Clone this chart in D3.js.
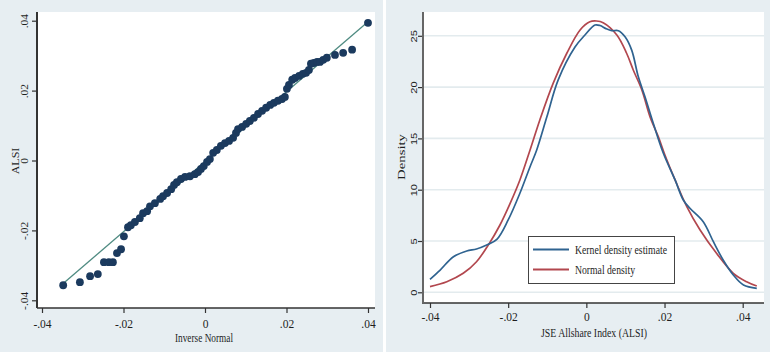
<!DOCTYPE html>
<meta charset="UTF-8">
<html>
<head>
	<title>ALSI normality plots</title>
	<script src="https://d3js.org/d3.v7.min.js"></script>
	<style>
		body { margin: 0; background: #ffffff; }
		svg text { font-family: "Liberation Serif", "Times New Roman", serif; fill: #1e1e1e; }
	</style>
</head>
<body>
	<svg id="chart" width="770" height="352"></svg>

	<script>
		// Left panel: sorted ALSI returns vs inverse normal
		var qqX = [-0.0348, -0.0307, -0.0282, -0.0263, -0.0248, -0.0236, -0.0226, -0.0216, -0.0206, -0.0199,
			-0.0189, -0.0182, -0.0172, -0.0160, -0.0152, -0.0142, -0.0135, -0.0123, -0.0110, -0.0103,
			-0.0093, -0.0083, -0.0076, -0.0069, -0.0059, -0.0049, -0.0037, -0.0025, -0.0017, -0.0010,
			-0.0003, 0.0005, 0.0012, 0.0020, 0.0029, 0.0039, 0.0049, 0.0059, 0.0069, 0.0076,
			0.0081, 0.0091, 0.0101, 0.0110, 0.0120, 0.0130, 0.0140, 0.0150, 0.0160, 0.0169,
			0.0179, 0.0189, 0.0196, 0.0201, 0.0206, 0.0214, 0.0221, 0.0231, 0.0240, 0.0248,
			0.0255, 0.0260, 0.0267, 0.0275, 0.0282, 0.0290, 0.0299, 0.0319, 0.0339, 0.0361, 0.0400];
		var qqY = [-0.0357, -0.0348, -0.0331, -0.0325, -0.0291, -0.0291, -0.0291, -0.0265, -0.0254, -0.0217,
			-0.0191, -0.0185, -0.0176, -0.0165, -0.0151, -0.0145, -0.0131, -0.0122, -0.0110, -0.0102,
			-0.0093, -0.0082, -0.0070, -0.0062, -0.0053, -0.0047, -0.0045, -0.0039, -0.0033, -0.0024,
			-0.0016, -0.0004, 0.0004, 0.0022, 0.0030, 0.0042, 0.0050, 0.0056, 0.0065, 0.0079,
			0.0090, 0.0096, 0.0105, 0.0113, 0.0122, 0.0133, 0.0142, 0.0151, 0.0159, 0.0165,
			0.0171, 0.0176, 0.0182, 0.0205, 0.0216, 0.0231, 0.0236, 0.0242, 0.0248, 0.0251,
			0.0259, 0.0277, 0.0279, 0.0282, 0.0282, 0.0288, 0.0294, 0.0302, 0.0308, 0.0317, 0.0394];
		// 45 degree reference line
		var refX = [-0.0348, 0.0400];
		var refY = [-0.0352, 0.0397];

		// Right panel: kernel density and normal density
		var kdeX = [-0.0400, -0.0374, -0.0340, -0.0306, -0.0281, -0.0255, -0.0229, -0.0200, -0.0170, -0.0144,
			-0.0127, -0.0101, -0.0072, -0.0029, -0.0003, 0.0022, 0.0035, 0.0050, 0.0065, 0.0082,
			0.0099, 0.0116, 0.0133, 0.0150, 0.0171, 0.0197, 0.0227, 0.0248, 0.0265, 0.0299,
			0.0325, 0.0350, 0.0376, 0.0402, 0.0436];
		var kdeY = [1.27, 2.17, 3.47, 4.03, 4.22, 4.61, 5.16, 7.05, 9.65, 12.24,
			13.87, 17.1, 20.7, 23.9, 25.1, 26.05, 26.0, 25.7, 25.5, 25.5,
			24.9, 23.6, 21.0, 19.06, 16.5, 13.55, 10.95, 9.0, 8.19, 6.88,
			4.93, 3.15, 1.69, 0.71, 0.39];
		var normX = [-0.0400, -0.0357, -0.0315, -0.0281, -0.0251, -0.0221, -0.0195, -0.0170, -0.0144, -0.0119,
			-0.0085, -0.0050, -0.0016, 0.0009, 0.0026, 0.0043, 0.0078, 0.0103, 0.0120, 0.0142,
			0.0163, 0.0184, 0.0201, 0.0227, 0.0257, 0.0291, 0.0333, 0.0376, 0.0410, 0.0436];
		var normY = [0.55, 1.03, 1.85, 2.98, 4.6, 6.56, 8.67, 10.95, 13.87, 16.8,
			20.37, 23.3, 25.57, 26.37, 26.44, 26.28, 25.08, 23.3, 21.67, 19.72,
			17.1, 15.17, 13.38, 10.95, 8.35, 6.07, 3.8, 1.85, 1.03, 0.61];

		var retTicks = [-0.04, -0.02, 0, 0.02, 0.04];
		var retTickLabels = ["-.04", "-.02", "0", ".02", ".04"];
		var densTicks = [0, 5, 10, 15, 20, 25];
		var legendLabels = ["Kernel density estimate", "Normal density"];

		var svg = d3.select("#chart");

		// panel backgrounds
		svg.append("rect").attr("x", 0).attr("y", 0).attr("width", 383).attr("height", 352).style("fill", "#e7eef2");
		svg.append("rect").attr("x", 386).attr("y", 0).attr("width", 384).attr("height", 352).style("fill", "#e7eef2");
		svg.append("rect").attr("x", 37).attr("y", 12).attr("width", 338).attr("height", 296).style("fill", "#ffffff");
		svg.append("rect").attr("x", 423).attr("y", 12).attr("width", 341).attr("height", 291).style("fill", "#ffffff");

		function fmt(d) { return retTickLabels[retTicks.indexOf(d)]; }

		function styleAxis(g) {
			g.select(".domain").remove();
			g.selectAll(".tick line").attr("stroke", "#333").attr("stroke-width", 1.2);
			g.selectAll("text").style("font-family", "Liberation Serif, serif").style("font-size", "11.5px").attr("fill", "#1e1e1e");
		}

		// ---------- left: quantile plot ----------
		var x1 = d3.scaleLinear().domain([-0.04, 0.04]).range([42, 368]);
		var y1 = d3.scaleLinear().domain([-0.04, 0.04]).range([300.3, 20.7]);

		var gx1 = svg.append("g").attr("transform", "translate(0,308)")
			.call(d3.axisBottom(x1).tickValues(retTicks).tickFormat(fmt).tickSize(5).tickPadding(7));
		styleAxis(gx1);
		svg.append("line").attr("x1", 37).attr("x2", 375).attr("y1", 308).attr("y2", 308)
			.attr("stroke", "#333").attr("stroke-width", 1.5);

		// rotated tick labels, squeezed across like the source image
		var gy1 = svg.append("g").attr("transform", "translate(37,0)")
			.call(d3.axisLeft(y1).tickValues(retTicks).tickFormat(fmt).tickSize(5));
		styleAxis(gy1);
		gy1.selectAll("text")
			.attr("x", 0).attr("dy", 0)
			.attr("text-anchor", "middle")
			.attr("transform", "translate(-9.5,0) rotate(-90) scale(1,0.85)");
		svg.append("line").attr("x1", 37).attr("x2", 37).attr("y1", 12).attr("y2", 308)
			.attr("stroke", "#333").attr("stroke-width", 2);

		svg.append("line")
			.attr("x1", x1(refX[0])).attr("y1", y1(refY[0]))
			.attr("x2", x1(refX[1])).attr("y2", y1(refY[1]))
			.attr("stroke", "#4f8b82").attr("stroke-width", 1.3);

		var qq = qqX.map(function(d, i) { return [d, qqY[i]]; });
		svg.selectAll("circle.qq")
			.data(qq)
			.enter()
			.append("circle")
				.attr("class", "qq")
				.attr("cx", function(d) { return x1(d[0]); })
				.attr("cy", function(d) { return y1(d[1]); })
				.attr("r", 3.9)
				.style("fill", "#1b3a5e");

		svg.append("text").attr("x", 204).attr("y", 342).attr("text-anchor", "middle")
			.attr("textLength", 58).attr("lengthAdjust", "spacingAndGlyphs")
			.style("font-size", "12.5px").text("Inverse Normal");
		svg.append("text").attr("transform", "translate(18.5,161) rotate(-90) scale(1,0.8)").attr("text-anchor", "middle")
			.style("font-size", "12px").text("ALSI");

		// ---------- right: density plot ----------
		var x2 = d3.scaleLinear().domain([-0.04, 0.04]).range([430, 742.7]);
		var y2 = d3.scaleLinear().domain([0, 25]).range([292.3, 35.8]);

		// grid
		svg.selectAll("line.grid")
			.data(densTicks)
			.enter()
			.append("line")
				.attr("class", "grid")
				.attr("x1", 424).attr("x2", 764)
				.attr("y1", function(d) { return y2(d); })
				.attr("y2", function(d) { return y2(d); })
				.attr("stroke", "#e3ebee").attr("stroke-width", 1.6);

		var gx2 = svg.append("g").attr("transform", "translate(0,303)")
			.call(d3.axisBottom(x2).tickValues(retTicks).tickFormat(fmt).tickSize(5).tickPadding(5));
		styleAxis(gx2);
		svg.append("line").attr("x1", 422).attr("x2", 764).attr("y1", 303).attr("y2", 303)
			.attr("stroke", "#333").attr("stroke-width", 1.5);

		var gy2 = svg.append("g").attr("transform", "translate(423,0)")
			.call(d3.axisLeft(y2).tickValues(densTicks).tickSize(5));
		styleAxis(gy2);
		gy2.selectAll("text")
			.attr("x", 0).attr("dy", 0)
			.attr("text-anchor", "middle")
			.style("font-family", "Liberation Sans, Arial, sans-serif")
			.style("font-size", "11px")
			.attr("transform", "translate(-6,0) rotate(-90) scale(1,0.85)");
		svg.append("line").attr("x1", 423).attr("x2", 423).attr("y1", 12).attr("y2", 303)
			.attr("stroke", "#666").attr("stroke-width", 2);

		var line2 = d3.line()
			.x(function(d) { return x2(d[0]); })
			.y(function(d) { return y2(d[1]); })
			.curve(d3.curveCatmullRom);

		svg.append("path")
			.datum(normX.map(function(d, i) { return [d, normY[i]]; }))
			.attr("d", line2)
			.attr("fill", "none").attr("stroke", "#b2474e").attr("stroke-width", 1.7);
		svg.append("path")
			.datum(kdeX.map(function(d, i) { return [d, kdeY[i]]; }))
			.attr("d", line2)
			.attr("fill", "none").attr("stroke", "#2f6390").attr("stroke-width", 1.7);

		svg.append("text").attr("x", 594).attr("y", 337).attr("text-anchor", "middle")
			.attr("textLength", 106).attr("lengthAdjust", "spacingAndGlyphs")
			.style("font-size", "12.5px").text("JSE Allshare Index (ALSI)");
		svg.append("text").attr("transform", "translate(404.5,157) rotate(-90) scale(1,0.8)").attr("text-anchor", "middle")
			.attr("textLength", 46).attr("lengthAdjust", "spacingAndGlyphs")
			.style("font-size", "13px").text("Density");

		// legend
		var legend = svg.append("g");
		legend.append("rect").attr("x", 528.5).attr("y", 236.5).attr("width", 146).attr("height", 47)
			.style("fill", "#ffffff").attr("stroke", "#444").attr("stroke-width", 1);
		var legColors = ["#2f6390", "#b2474e"];
		var legWidths = [92, 60];
		legendLabels.forEach(function(t, i) {
			var yy = 249.5 + i * 20;
			legend.append("line").attr("x1", 533).attr("x2", 569).attr("y1", yy).attr("y2", yy)
				.attr("stroke", legColors[i]).attr("stroke-width", 1.8);
			legend.append("text").attr("x", 575).attr("y", yy + 4)
				.attr("textLength", legWidths[i]).attr("lengthAdjust", "spacingAndGlyphs")
				.style("font-size", "12.5px").text(t);
		});
	</script>
</body>
</html>
